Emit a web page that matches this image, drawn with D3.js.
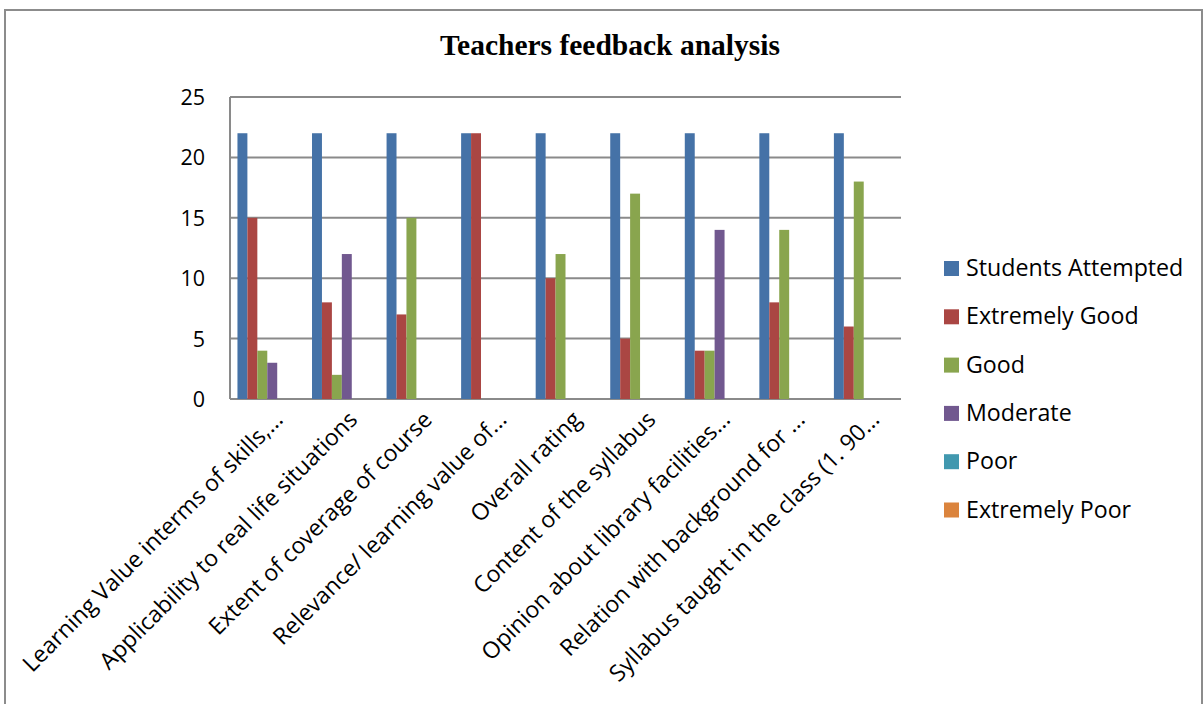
<!DOCTYPE html>
<html><head><meta charset="utf-8">
<script src="https://cdn.jsdelivr.net/npm/d3@7"></script>
<style>body{margin:0;background:#fff;}svg{display:block;}</style>
</head><body>
<script>
const categories = ["Learning Value interms of skills,...","Applicability to real life situations","Extent of coverage of course","Relevance/ learning value of...","Overall rating","Content of the syllabus","Opinion about library facilities...","Relation with background for ...","Syllabus taught in the class (1. 90..."];
const seriesNames = ["Students Attempted","Extremely Good","Good","Moderate","Poor","Extremely Poor"];
const studentsAttempted = [22,22,22,22,22,22,22,22,22];
const extremelyGood = [15,8,7,22,10,5,4,8,6];
const good = [4,2,15,0,12,17,4,14,18];
const moderate = [3,12,0,0,0,0,14,0,0];
const poor = [0,0,0,0,0,0,0,0,0];
const extremelyPoor = [0,0,0,0,0,0,0,0,0];
const yTicks = [0,5,10,15,20,25];
const colors = ["#4572A7","#AA4643","#89A54E","#71588F","#4198AF","#DB843D"];
const seriesValues = [studentsAttempted, extremelyGood, good, moderate, poor, extremelyPoor];

(function(){
const W=1204,H=704;
const FONT="Open Sans";
const svg=d3.select("body").append("svg").attr("width",W).attr("height",H);
svg.append("rect").attr("x",5).attr("y",10).attr("width",1197).attr("height",720)
  .attr("fill","none").attr("stroke","#8c8c8c").attr("stroke-width",2);

const pL=230,pR=901,pT=97,pB=399;
const x=d3.scaleBand().domain(categories).range([pL,pR]);
const y=d3.scaleLinear().domain([0,25]).range([pB,pT]);
const barW=x.bandwidth()/7.5;
const x1=d3.scaleBand().domain(seriesNames).range([0.75*barW,0.75*barW+6*barW]);

svg.append("text").attr("x",610).attr("y",55).attr("text-anchor","middle")
  .attr("font-family","Liberation Serif").attr("font-weight","bold").attr("font-size",29.5)
  .text("Teachers feedback analysis");

svg.append("g").selectAll("line").data(yTicks).join("line")
  .attr("x1",pL).attr("x2",pR).attr("y1",d=>y(d)).attr("y2",d=>y(d))
  .attr("stroke","#8a8a8a").attr("stroke-width",2);
svg.append("line").attr("x1",pL).attr("x2",pL).attr("y1",pT).attr("y2",pB)
  .attr("stroke","#8a8a8a").attr("stroke-width",2);

svg.append("g").selectAll("text").data(yTicks).join("text")
  .attr("x",205).attr("y",d=>y(d)+8).attr("text-anchor","end")
  .attr("font-family",FONT).attr("font-size",21.5).attr("fill","#000").text(d=>d);

const g=svg.append("g");
seriesNames.forEach((s,si)=>{
  g.append("g").selectAll("rect").data(categories).join("rect")
    .attr("x",c=>x(c)+x1(s)).attr("width",x1.bandwidth())
    .attr("y",(c,i)=>y(seriesValues[si][i])).attr("height",(c,i)=>pB-y(seriesValues[si][i]))
    .attr("fill",colors[si]);
});

svg.append("g").selectAll("text").data(categories).join("text")
  .attr("text-anchor","end").attr("font-family",FONT).attr("font-size",23).attr("fill","#000")
  .attr("transform",c=>`translate(${x(c)+x.bandwidth()/2+17},${pB+22}) rotate(-45)`)
  .text(c=>c);

const lg=svg.append("g");
seriesNames.forEach((s,i)=>{
  const yy=268+i*48.3;
  lg.append("rect").attr("x",944).attr("y",yy-7).attr("width",15).attr("height",15).attr("fill",colors[i]);
  lg.append("text").attr("x",966).attr("y",yy+8).attr("font-family",FONT).attr("font-size",23.2).attr("fill","#000").text(s);
});
})();
</script>
</body></html>
